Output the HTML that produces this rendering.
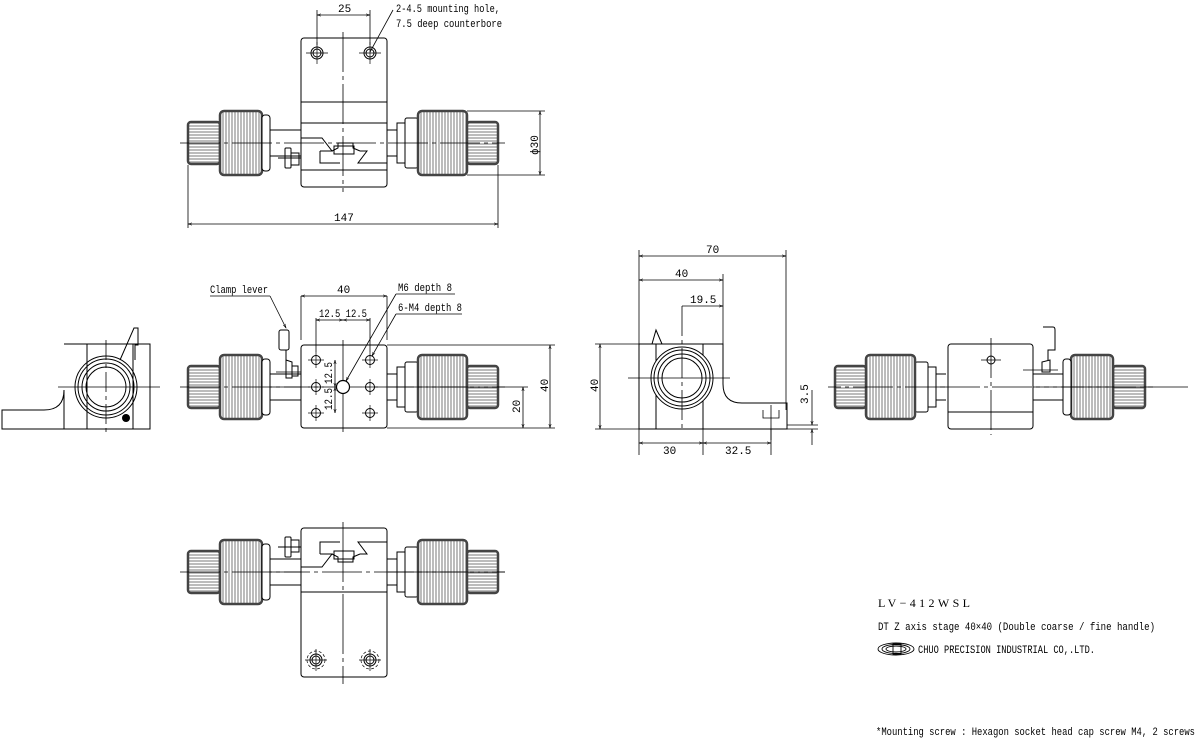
<!DOCTYPE html>
<html><head><meta charset="utf-8"><style>
html,body{margin:0;padding:0;background:#fff;}
svg{display:block;}
text{font-family:"Liberation Mono","Noto Sans CJK JP",monospace;font-size:11px;fill:#000;}
</style></head><body>
<svg width="1200" height="738" viewBox="0 0 1200 738" xmlns="http://www.w3.org/2000/svg">
<defs>
<pattern id="kn" width="4" height="3" patternUnits="userSpaceOnUse"><rect width="4" height="3" fill="#fff"/><line x1="0" y1="1" x2="4" y2="1" stroke="#555" stroke-width="0.8"/></pattern>
<pattern id="kv" width="3" height="4" patternUnits="userSpaceOnUse"><rect width="3" height="4" fill="#fff"/><line x1="1" y1="0" x2="1" y2="4" stroke="#555" stroke-width="0.8"/></pattern>
<marker id="ar" viewBox="0 0 10 10" refX="10" refY="5" markerWidth="7" markerHeight="5" orient="auto-start-reverse"><path d="M0,2 L10,5 L0,8" fill="none" stroke="#000" stroke-width="1.2"/></marker>
<g id="asm" stroke="#000" stroke-width="1" fill="none">
 <line x1="270" y1="-13" x2="301" y2="-13"/><line x1="270" y1="13" x2="301" y2="13"/>
 <line x1="387" y1="-13" x2="397" y2="-13"/><line x1="387" y1="13" x2="397" y2="13"/>
 <rect x="188" y="-21" width="32" height="42" rx="3" fill="url(#kn)" stroke-width="2.5" stroke="#444"/>
 <rect x="220" y="-32" width="42" height="64" rx="4" fill="url(#kv)" stroke-width="2.5" stroke="#444"/>
 <rect x="262" y="-28" width="8" height="56" rx="3" fill="#fff"/>
 <rect x="397" y="-20" width="8" height="40" fill="#fff"/>
 <rect x="405" y="-25" width="13" height="50" rx="2" fill="#fff"/>
 <rect x="418" y="-32" width="49" height="64" rx="4" fill="url(#kv)" stroke-width="2.5" stroke="#444"/>
 <rect x="467" y="-21" width="31" height="42" rx="3" fill="url(#kn)" stroke-width="2.5" stroke="#444"/>
 <line x1="180" y1="0" x2="505" y2="0" stroke-dasharray="40,4,4,4" stroke-width="0.8"/>
</g>
<g id="dov" stroke="#000" stroke-width="1" fill="none">
 <path d="M301,-5 H322 L332,8 H320 M332,8 L338,5 V0 H353 V5 L360,8 M360,8 H367 L358,20 H387"/>
 <path d="M320,8 V20 H340"/>
 <rect x="334" y="3" width="20" height="8"/>
 <rect x="285" y="5" width="6" height="20" rx="1"/><rect x="291" y="10" width="8" height="12"/>
 <line x1="278" y1="15" x2="301" y2="15"/>
</g>
<g id="hole"><circle r="6" fill="none" stroke="#000"/><circle r="4" fill="none" stroke="#000"/><line x1="-11" y1="0" x2="11" y2="0" stroke="#000" stroke-width="0.7"/><line x1="0" y1="-11" x2="0" y2="11" stroke="#000" stroke-width="0.7"/></g>
<g id="sh"><circle r="4.5" fill="none" stroke="#000"/><line x1="-8" y1="0" x2="8" y2="0" stroke="#000" stroke-width="0.7"/><line x1="0" y1="-8" x2="0" y2="8" stroke="#000" stroke-width="0.7"/></g>
</defs>

<!-- TOP VIEW -->
<use href="#asm" transform="translate(0,143)"/>
<g stroke="#000" fill="none">
<rect x="301" y="38" width="86" height="149" rx="3" fill="none"/>
<line x1="301" y1="102" x2="387" y2="102"/><line x1="301" y1="123" x2="387" y2="123"/><line x1="301" y1="170" x2="387" y2="170"/>
<line x1="343" y1="32" x2="343" y2="192" stroke-width="0.8" stroke-dasharray="40,4,4,4"/>
</g>
<use href="#dov" transform="translate(0,143)"/>
<use href="#hole" x="317" y="53"/><use href="#hole" x="370" y="53"/>
<g stroke="#000" stroke-width="0.8" fill="none">
<line x1="317" y1="10" x2="317" y2="45"/><line x1="370" y1="10" x2="370" y2="45"/>
<line x1="317" y1="15" x2="370" y2="15" marker-start="url(#ar)" marker-end="url(#ar)"/>
<line x1="370" y1="52" x2="393" y2="10"/>
<line x1="188" y1="165" x2="188" y2="228"/><line x1="498" y1="165" x2="498" y2="228"/>
<line x1="188" y1="224" x2="498" y2="224" marker-start="url(#ar)" marker-end="url(#ar)"/>
<line x1="467" y1="111" x2="545" y2="111"/><line x1="467" y1="175" x2="545" y2="175"/>
<line x1="540" y1="111" x2="540" y2="175" marker-start="url(#ar)" marker-end="url(#ar)"/>
</g>
<text x="338" y="12">25</text>
<text x="396" y="12" textLength="104" lengthAdjust="spacingAndGlyphs">2-4.5 mounting hole,</text>
<text x="396" y="27" textLength="106" lengthAdjust="spacingAndGlyphs">7.5 deep counterbore</text>
<text x="334" y="221">147</text>
<text transform="translate(538,155) rotate(-90)">ϕ30</text>

<!-- FRONT VIEW -->
<use href="#asm" transform="translate(0,387)"/>
<g stroke="#000" fill="none">
<rect x="301" y="345" width="86" height="83" rx="3" fill="#fff"/>
<line x1="343" y1="340" x2="343" y2="435" stroke-width="0.8" stroke-dasharray="40,4,4,4"/>
<line x1="270" y1="387" x2="505" y2="387" stroke-width="0.8" stroke-dasharray="40,4,4,4"/>
<rect x="279" y="330" width="10" height="20" rx="2"/>
<path d="M286,350 V360 L292,362 V378 H286 Z"/><rect x="292" y="366" width="6" height="10"/>
<line x1="276" y1="372" x2="301" y2="372" stroke-width="0.8"/>
</g>
<use href="#sh" x="316" y="360"/><use href="#sh" x="316" y="387"/><use href="#sh" x="316" y="413"/>
<use href="#sh" x="370" y="360"/><use href="#sh" x="370" y="387"/><use href="#sh" x="370" y="413"/>
<circle cx="343" cy="387" r="6.5" fill="#fff" stroke="#000" stroke-width="1.2"/>
<g stroke="#000" stroke-width="0.8" fill="none">
<line x1="301" y1="296" x2="301" y2="340"/><line x1="387" y1="296" x2="387" y2="340"/>
<line x1="301" y1="296" x2="387" y2="296" marker-start="url(#ar)" marker-end="url(#ar)"/>
<line x1="316" y1="318" x2="316" y2="352"/><line x1="370" y1="318" x2="370" y2="352"/>
<line x1="316" y1="320" x2="343" y2="320" marker-start="url(#ar)" marker-end="url(#ar)"/>
<line x1="343" y1="320" x2="370" y2="320" marker-start="url(#ar)" marker-end="url(#ar)"/>
<line x1="335" y1="360" x2="335" y2="387" marker-start="url(#ar)" marker-end="url(#ar)"/>
<line x1="335" y1="387" x2="335" y2="413" marker-start="url(#ar)" marker-end="url(#ar)"/>
<line x1="210" y1="296" x2="270" y2="296"/><line x1="270" y1="296" x2="286" y2="328" marker-end="url(#ar)"/>
<line x1="396" y1="294" x2="455" y2="294"/><line x1="396" y1="294" x2="346" y2="381" marker-end="url(#ar)"/>
<line x1="396" y1="314" x2="462" y2="314"/><line x1="396" y1="314" x2="372" y2="356" marker-end="url(#ar)"/>
<line x1="387" y1="345" x2="555" y2="345"/><line x1="387" y1="428" x2="555" y2="428"/>
<line x1="550" y1="345" x2="550" y2="428" marker-start="url(#ar)" marker-end="url(#ar)"/>
<line x1="505" y1="387" x2="528" y2="387"/>
<line x1="523" y1="387" x2="523" y2="428" marker-start="url(#ar)" marker-end="url(#ar)"/>
</g>
<text x="210" y="293" textLength="58" lengthAdjust="spacingAndGlyphs">Clamp lever</text>
<text x="337" y="293">40</text>
<text x="319" y="317" textLength="48" lengthAdjust="spacingAndGlyphs">12.5 12.5</text>
<text x="398" y="291" textLength="54" lengthAdjust="spacingAndGlyphs">M6 depth 8</text>
<text x="398" y="311" textLength="64" lengthAdjust="spacingAndGlyphs">6-M4 depth 8</text>
<text transform="translate(332,384) rotate(-90)" textLength="22" lengthAdjust="spacingAndGlyphs">12.5</text>
<text transform="translate(332,410) rotate(-90)" textLength="22" lengthAdjust="spacingAndGlyphs">12.5</text>
<text transform="translate(548,392) rotate(-90)">40</text>
<text transform="translate(520,413) rotate(-90)">20</text>

<!-- LEFT SIDE VIEW -->
<g stroke="#000" fill="none">
<path d="M64,344 H150 V429 H64 V390 Q64,410 44,410 H2 V429 H64"/>
<line x1="87" y1="344" x2="87" y2="429"/><line x1="133" y1="344" x2="133" y2="429"/>
<circle cx="106" cy="387" r="31"/><circle cx="106" cy="387" r="28"/><circle cx="106" cy="387" r="24"/><circle cx="106" cy="387" r="20"/>
<path d="M120,360 L134,328 H138 V345 H135 V360"/>
<line x1="58" y1="387" x2="160" y2="387" stroke-width="0.8"/><line x1="106" y1="340" x2="106" y2="434" stroke-width="0.8" stroke-dasharray="20,4,4,4"/>
</g>
<circle cx="126" cy="418" r="4" fill="#000"/>

<!-- SIDE VIEW (center) -->
<g stroke="#000" fill="none">
<path d="M639,344 H723 V384 Q723,403 742,403 H787 V429 H639 Z"/>
<line x1="656" y1="344" x2="656" y2="429"/><line x1="703" y1="344" x2="703" y2="429"/>
<circle cx="682" cy="378" r="31" fill="#fff"/><circle cx="682" cy="378" r="28"/><circle cx="682" cy="378" r="24"/><circle cx="682" cy="378" r="20"/>
<path d="M652,344 L656,330 L662,344"/>
<line x1="628" y1="378" x2="730" y2="378" stroke-width="0.8"/><line x1="682" y1="306" x2="682" y2="429" stroke-width="0.8" stroke-dasharray="30,4,4,4"/>
<path d="M763,410 V418 H779 V410 M771,405 V440" stroke-width="0.8"/>
</g>
<g stroke="#000" stroke-width="0.8" fill="none">
<line x1="639" y1="250" x2="639" y2="455"/><line x1="786" y1="250" x2="786" y2="410"/><line x1="723" y1="274" x2="723" y2="344"/>
<line x1="639" y1="256" x2="786" y2="256" marker-start="url(#ar)" marker-end="url(#ar)"/>
<line x1="639" y1="280" x2="723" y2="280" marker-start="url(#ar)" marker-end="url(#ar)"/>
<line x1="682" y1="306" x2="723" y2="306" marker-end="url(#ar)"/>
<line x1="595" y1="344" x2="639" y2="344"/><line x1="595" y1="429" x2="639" y2="429"/>
<line x1="600" y1="344" x2="600" y2="429" marker-start="url(#ar)" marker-end="url(#ar)"/>
<line x1="703" y1="429" x2="703" y2="455"/><line x1="771" y1="429" x2="771" y2="455"/>
<line x1="639" y1="443" x2="703" y2="443" marker-start="url(#ar)" marker-end="url(#ar)"/>
<line x1="703" y1="443" x2="771" y2="443" marker-start="url(#ar)" marker-end="url(#ar)"/>
<line x1="787" y1="425" x2="818" y2="425"/><line x1="787" y1="429" x2="818" y2="429"/>
<line x1="812" y1="390" x2="812" y2="425" marker-end="url(#ar)"/><line x1="812" y1="445" x2="812" y2="429" marker-end="url(#ar)"/>
</g>
<text x="706" y="253">70</text><text x="675" y="277">40</text><text x="690" y="303">19.5</text>
<text transform="translate(598,392) rotate(-90)">40</text>
<text x="663" y="454">30</text><text x="725" y="454">32.5</text>
<text transform="translate(808,404) rotate(-90)">3.5</text>

<!-- RIGHT VIEW -->
<use href="#asm" transform="translate(1333,387) scale(-1,1)"/>
<g stroke="#000" fill="none">
<rect x="948" y="344" width="85" height="85" rx="3" fill="#fff"/>
<line x1="948" y1="412" x2="1033" y2="412"/>
<line x1="991" y1="338" x2="991" y2="435" stroke-width="0.8" stroke-dasharray="40,4,4,4"/>
<line x1="940" y1="387" x2="1190" y2="387" stroke-width="0.8" stroke-dasharray="40,4,4,4"/>
<circle cx="991" cy="360" r="4"/><line x1="981" y1="360" x2="1001" y2="360" stroke-width="0.7"/>
<path d="M1043,327 H1053 Q1055,327 1055,330 V350 H1048 V360 M1042,362 V372 H1050 V360 Z"/>
<line x1="1023" y1="370" x2="1058" y2="370" stroke-width="0.8"/>
</g>

<!-- BOTTOM VIEW -->
<use href="#asm" transform="translate(0,572)"/>
<g stroke="#000" fill="none">
<rect x="301" y="528" width="86" height="149" rx="3" fill="#fff"/>
<line x1="301" y1="592" x2="387" y2="592"/>
<line x1="343" y1="522" x2="343" y2="684" stroke-width="0.8" stroke-dasharray="60,4,4,4"/>
<line x1="270" y1="572" x2="505" y2="572" stroke-width="0.8" stroke-dasharray="40,4,4,4"/>
</g>
<use href="#dov" transform="translate(0,572) scale(1,-1) translate(0,10)"/>
<use href="#hole" x="316" y="660"/><use href="#hole" x="370" y="660"/>
<circle cx="316" cy="660" r="9" fill="none" stroke="#000" stroke-dasharray="3,2" stroke-width="0.7"/>
<circle cx="370" cy="660" r="9" fill="none" stroke="#000" stroke-dasharray="3,2" stroke-width="0.7"/>

<!-- TITLE -->
<text x="878" y="607" style="font-family:'Liberation Serif',serif;font-size:12px" textLength="92" lengthAdjust="spacing">LV−412WSL</text>
<text x="878" y="630" textLength="277" lengthAdjust="spacingAndGlyphs">DT Z axis stage 40×40  (Double coarse / fine handle)</text>
<g fill="none" stroke="#000" stroke-width="0.9">
<ellipse cx="896" cy="649" rx="18" ry="6"/><ellipse cx="896" cy="649" rx="14" ry="4.5"/><ellipse cx="896" cy="649" rx="10" ry="3"/>
<rect x="893" y="644" width="8" height="10"/>
</g>
<text x="918" y="653" textLength="177" lengthAdjust="spacingAndGlyphs">CHUO PRECISION INDUSTRIAL CO,.LTD.</text>
<text x="876" y="735" textLength="319" lengthAdjust="spacingAndGlyphs">*Mounting screw : Hexagon socket head cap screw M4, 2 screws</text>
</svg>
</body></html>
